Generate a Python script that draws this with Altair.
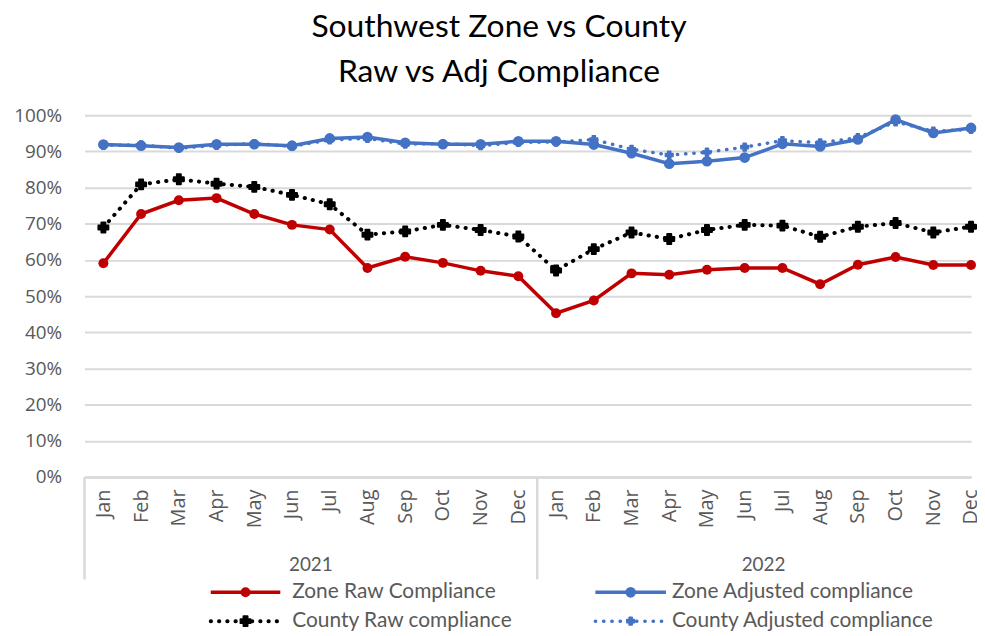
import altair as alt
import pandas as pd

months = ["Jan", "Feb", "Mar", "Apr", "May", "Jun", "Jul", "Aug", "Sep", "Oct", "Nov", "Dec"]
years = ["2021", "2022"]
series_names = ["Zone Raw Compliance", "Zone Adjusted compliance",
                "County Raw compliance", "County Adjusted compliance"]

zone_raw = [59.1, 72.7, 76.5, 77.1, 72.7, 69.7, 68.4, 57.8, 60.9, 59.2, 57.0, 55.5,
            45.3, 48.8, 56.3, 55.9, 57.3, 57.8, 57.8, 53.3, 58.7, 60.8, 58.6, 58.6]
zone_adj = [91.9, 91.6, 91.1, 92.0, 92.0, 91.6, 93.6, 94.0, 92.4, 92.0, 92.0, 92.8,
            92.8, 91.9, 89.5, 86.6, 87.3, 88.3, 92.1, 91.4, 93.3, 98.8, 95.1, 96.5]
county_raw = [69.0, 80.9, 82.3, 81.1, 80.2, 78.0, 75.4, 67.0, 67.9, 69.7, 68.3, 66.5,
              57.1, 63.0, 67.6, 65.8, 68.3, 69.7, 69.5, 66.4, 69.2, 70.2, 67.6, 69.2]
county_adj = [91.7, 91.8, 90.9, 91.7, 92.2, 91.4, 93.2, 93.6, 92.0, 92.2, 91.6, 92.5,
              92.6, 93.3, 90.6, 89.0, 89.8, 91.2, 93.0, 92.4, 93.8, 98.2, 95.6, 96.1]

rows = []
for s, vals in zip(series_names, [zone_raw, zone_adj, county_raw, county_adj]):
    for i, v in enumerate(vals):
        rows.append({"idx": i, "month": months[i % 12], "year": years[i // 12],
                     "series": s, "value": v})
df = pd.DataFrame(rows)

W, H = 892, 364
FONT = "Lato"
AXFONT = "Open Sans"
GRAY = "#595959"
GRID = "#d9d9d9"
RED = "#C00000"
BLUE = "#4472C4"

styles = {
    "Zone Raw Compliance": dict(color=RED, width=3.5, dash=None, shape="circle", size=100, sw=0),
    "Zone Adjusted compliance": dict(color=BLUE, width=3.5, dash=None, shape="circle", size=115, sw=0),
    "County Raw compliance": dict(color="black", width=4, dash=[0.3, 8], shape="cross", size=100, sw=2),
    "County Adjusted compliance": dict(color=BLUE, width=3.5, dash=[0.3, 8], shape="cross", size=60, sw=1.5),
}

label_expr = "[" + ",".join(f"'{m}'" for m in months) + "][datum.value % 12]"
x_scale = alt.Scale(domain=[-0.5, 23], nice=False, zero=False)
x_axis = alt.Axis(values=list(range(24)), labelExpr=label_expr, labelAngle=270,
                  labelFont=AXFONT, labelFontSize=20, labelColor=GRAY, labelPadding=12,
                  ticks=False, grid=False, domainColor=GRID, domainWidth=2.5,
                  labelOverlap=False, labelBound=False, labelFlush=False)
y_scale = alt.Scale(domain=[0, 100], nice=False)
y_axis = alt.Axis(values=list(range(0, 101, 10)), labelExpr="datum.value + '%'",
                  labelFont=AXFONT, labelFontSize=19, labelColor=GRAY, labelPadding=23,
                  ticks=False, domain=False, gridColor=GRID, gridWidth=2)


def xq(field):
    return alt.X(f"{field}:Q", scale=x_scale, axis=x_axis, title=None)


def point_kw(st):
    kw = dict(filled=True, shape=st["shape"], size=st["size"], color=st["color"], opacity=1)
    if st["sw"]:
        kw.update(stroke=st["color"], strokeWidth=st["sw"], strokeJoin="round")
    return kw


layers = []
for s in series_names:
    st = styles[s]
    base = alt.Chart(df).transform_filter(alt.datum.series == s)
    line_kw = dict(color=st["color"], strokeWidth=st["width"])
    if st["dash"]:
        line_kw.update(strokeDash=st["dash"], strokeCap="round")
    line = base.mark_line(**line_kw).encode(
        x=xq("idx"), y=alt.Y("value:Q", scale=y_scale, axis=y_axis, title=None))
    pts = base.mark_point(**point_kw(st)).encode(
        x=xq("idx"), y=alt.Y("value:Q", scale=y_scale, axis=y_axis, title=None))
    layers += [line, pts]

# multi-level category separators and year labels
sep_df = pd.DataFrame({"sep": [-0.5, 11.5]})
seps = alt.Chart(sep_df).mark_rule(color=GRID, strokeWidth=2.5).encode(
    x=xq("sep"), y=alt.value(H), y2=alt.value(H + 103))
year_df = pd.DataFrame({"pos": [5.5, 17.5], "year": years})
year_txt = alt.Chart(year_df).mark_text(font=FONT, fontSize=19, color=GRAY,
                                        baseline="middle").encode(
    x=xq("pos"), y=alt.value(H + 89), text="year:N")
layers += [seps, year_txt]

# legend (2 x 2)
col_line = [(127, 197), (514, 585)]
col_text = [209, 591]
row_y = [H + 116, H + 145]
for i, s in enumerate(series_names):
    st = styles[s]
    c, r = i % 2, i // 2
    ldf = pd.DataFrame({"t": [s]})
    rule_kw = dict(color=st["color"], strokeWidth=st["width"])
    if st["dash"]:
        rule_kw.update(strokeDash=st["dash"], strokeCap="round")
    x1, x2 = col_line[c]
    layers.append(alt.Chart(ldf).mark_rule(**rule_kw).encode(
        x=alt.value(x1), x2=alt.value(x2), y=alt.value(row_y[r])))
    layers.append(alt.Chart(ldf).mark_point(**point_kw(st)).encode(
        x=alt.value((x1 + x2) / 2), y=alt.value(row_y[r])))
    layers.append(alt.Chart(ldf).mark_text(font=FONT, fontSize=21, color=GRAY, align="left",
                                           baseline="middle").encode(
        x=alt.value(col_text[c]), y=alt.value(row_y[r]), text="t:N"))

chart = alt.layer(*layers).properties(
    width=W, height=H,
    title=alt.TitleParams(text=["Southwest Zone vs County", "Raw vs Adj Compliance"],
                          font=FONT, fontSize=32, fontWeight="normal", color="black",
                          lineHeight=46, anchor="middle", dx=-29, offset=17),
    padding={"left": 77, "top": 106, "right": 6, "bottom": 156},
    autosize=alt.AutoSizeParams(type="none"),
).configure_view(stroke=None)

chart.save("out.html", embed_options={"renderer": "svg", "actions": False})
